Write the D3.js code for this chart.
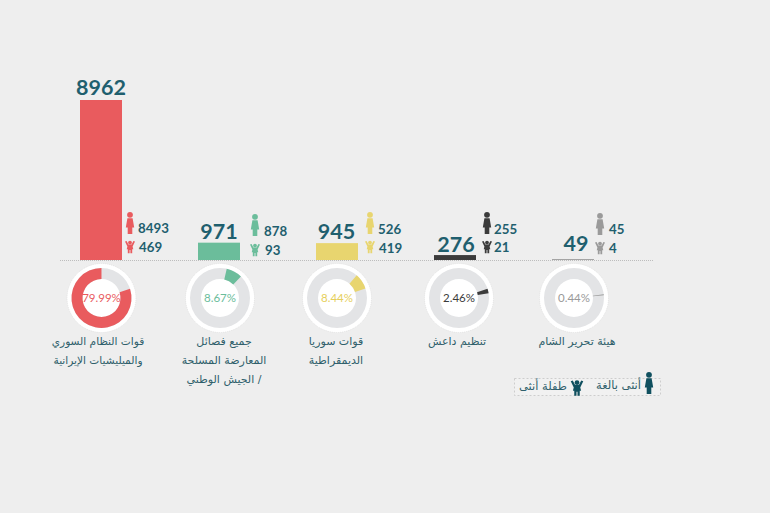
<!DOCTYPE html>
<html><head><meta charset="utf-8">
<script src="https://cdn.jsdelivr.net/npm/d3@7"></script>
<style>html,body{margin:0;padding:0;background:#eeeeee}svg{display:block}</style></head>
<body><svg id="c" width="770" height="513"></svg>
<script>
const totals=[8962,971,945,276,49];
const adults=[8493,878,526,255,45];
const children=[469,93,419,21,4];
const shares=[79.99,8.67,8.44,2.46,0.44];
const names=[
 ["قوات النظام السوري","والميليشيات الإيرانية"],
 ["جميع فصائل","المعارضة المسلحة","/ الجيش الوطني"],
 ["قوات سوريا","الديمقراطية"],
 ["تنظيم داعش"],
 ["هيئة تحرير الشام"]];
const colors=["#e95b5e","#6bbd9b","#e8d56f","#3b3b3b","#9a9a9a"];
const legendLabels=["أنثى بالغة","طفلة أنثى"];

// layout
const barX=[80,198,316,434,552], barW=42, base=260;
const labelX=[101,219,336.5,456,576], labelY=[95,239,239,252,251];
const donutX=[101.5,220,337,459,574], donutY=298;
const startDeg=[72,13,41,72,83];
const iconX=[130,255,370,487,600], adultTop=[212,214,212,212,213], childY=[247,250,247,247,248];
const adultNum=[[138,233],[264,236],[378,234],[494,234],[609,234]];
const childNum=[[139,252],[265,255],[379,253],[494,252],[609,253]];
const nameX=[98,224,336,457,577];
const numFont="Lato, sans-serif", araFont="'DejaVu Sans', sans-serif", teal="#1f5f6e";

const svg=d3.select("#c");
const y=d3.scaleLinear().domain([0,8962]).range([base,100]);

svg.append("line").attr("x1",60).attr("x2",654).attr("y1",base+.5).attr("y2",base+.5)
  .attr("stroke","#bdbdbd").attr("stroke-dasharray","1 1");

svg.selectAll(".bar").data(totals).join("rect").attr("class","bar")
  .attr("x",(d,i)=>barX[i]).attr("width",barW).attr("y",d=>y(d)).attr("height",d=>base-y(d))
  .attr("fill",(d,i)=>colors[i]);
svg.selectAll(".tot").data(totals).join("text").attr("class","tot")
  .attr("x",(d,i)=>labelX[i]).attr("y",(d,i)=>labelY[i]).attr("text-anchor","middle")
  .attr("font-family",numFont).attr("font-weight",700).attr("font-size",21.5).attr("fill",teal).text(d=>d);

function adult(g,cx,top,c,h=22){
  const s=h/22;
  const t=g.append("g").attr("transform",`translate(${cx},${top}) scale(${s})`).attr("fill",c);
  t.append("circle").attr("cy",2.8).attr("r",2.9);
  t.append("path").attr("d","M-2.6 6.2H2.6L4.2 15.5H2.3V22H-2.3V15.5H-4.2Z");
}
function child(g,cx,cy,c,s=1){
  const t=g.append("g").attr("transform",`translate(${cx},${cy}) scale(${s})`).attr("fill",c);
  t.append("circle").attr("cy",-4.4).attr("r",1.9);
  t.append("path").attr("d","M-5 -5.5L-3.4 -6L-1.6 -2.6H1.6L3.4 -6L5 -5.5L2.6 -.5L3.3 2.2H2.2V6.2H.4V3H-.4V6.2H-2.2V2.2H-3.3L-2.6 -.5Z");
}
totals.forEach((d,i)=>{
  adult(svg,iconX[i],adultTop[i],colors[i]);
  child(svg,iconX[i],childY[i],colors[i]);
});
[[adults,adultNum],[children,childNum]].forEach(([vals,pos])=>{
  svg.append("g").selectAll("text").data(vals).join("text")
    .attr("x",(d,i)=>pos[i][0]).attr("y",(d,i)=>pos[i][1])
    .attr("font-family",numFont).attr("font-weight",700).attr("font-size",13.3).attr("fill",teal).text(d=>d);
});

const arc=d3.arc().innerRadius(19).outerRadius(30);
const rad=Math.PI/180;
shares.forEach((p,i)=>{
  const g=svg.append("g").attr("transform",`translate(${donutX[i]},${donutY})`);
  g.append("circle").attr("r",34.5).attr("fill","#fff").attr("stroke","#dcdcdc").attr("stroke-width",.6).attr("stroke-dasharray","1 1");
  g.append("path").attr("d",arc({startAngle:0,endAngle:2*Math.PI})).attr("fill","#e3e4e6");
  const a0=startDeg[i]*rad;
  g.append("path").attr("d",arc({startAngle:a0,endAngle:a0+d3.scaleLinear([0,100],[0,2*Math.PI])(p)})).attr("fill",colors[i]);
  g.append("text").attr("y",4.2).attr("text-anchor","middle").attr("font-family",numFont).attr("font-size",11.5)
    .attr("fill",colors[i]=="#e8d56f"?"#e6cf5c":colors[i]).text(p.toFixed(2)+"%");
  names[i].forEach((l,j)=>{
    svg.append("text").attr("x",nameX[i]).attr("y",345+j*19).attr("text-anchor","middle").attr("direction","rtl")
      .attr("font-family",araFont).attr("font-size",i==0?10.6:11).attr("fill","#2f5f6b").text(l);
  });
});

svg.append("rect").attr("x",514.5).attr("y",378.5).attr("width",146).attr("height",17)
  .attr("fill","#f1f1f1").attr("stroke","#c4c4c4").attr("stroke-width",.8).attr("stroke-dasharray","2 2");
adult(svg,649,372,"#10505f");
child(svg,577,388,"#10505f",1.25);
[[641,389],[567,390]].forEach((p,i)=>{
  svg.append("text").attr("x",p[0]).attr("y",p[1]).attr("text-anchor","start").attr("direction","rtl")
   .attr("font-family",araFont).attr("font-size",11.5).attr("fill","#2f5f6b").text(legendLabels[i]);
});
</script></body></html>
